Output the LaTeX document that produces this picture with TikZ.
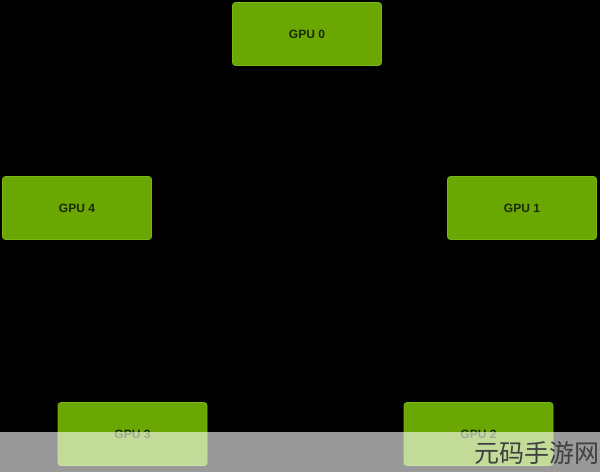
\documentclass[tikz,border=0pt]{standalone}
\usepackage{fontspec}
\setmainfont{Liberation Sans}
\newfontfamily\cjk{Noto Sans CJK SC}
\usepackage{tikz}
\definecolor{gpugreen}{HTML}{6AA702}
\definecolor{gpuedge}{HTML}{78B814}
\definecolor{gputext}{HTML}{1A2A02}
\tikzset{gpu/.style={rectangle,rounded corners=3pt,draw=gpuedge,fill=gpugreen,line width=0.8pt,minimum width=149pt,minimum height=63pt,inner sep=0pt,text=gputext,font=\bfseries\fontsize{12}{14}\selectfont}}
\tikzset{band/.style={fill=white,opacity=0.6}}
\begin{document}
\begin{tikzpicture}[x=1pt,y=-1pt]
    \fill[black] (0,0) rectangle (600,472);
    \useasboundingbox (0,0) rectangle (600,472);
    \node[gpu] (g0) at (307,34) {GPU 0};
    \node[gpu] (g4) at (77,208) {GPU 4};
    \node[gpu] (g1) at (522,208) {GPU 1};
    \node[gpu] (g3) at (132.5,434) {GPU 3};
    \node[gpu] (g2) at (478.5,434) {GPU 2};
    % watermark band
    \fill[band] (0,432) rectangle (600,472);
    \node[anchor=west,inner sep=0pt,text=black!75,font=\cjk\fontsize{25}{25}\selectfont] (wm) at (474,453) {元码手游网};
  \end{tikzpicture}
\end{document}
